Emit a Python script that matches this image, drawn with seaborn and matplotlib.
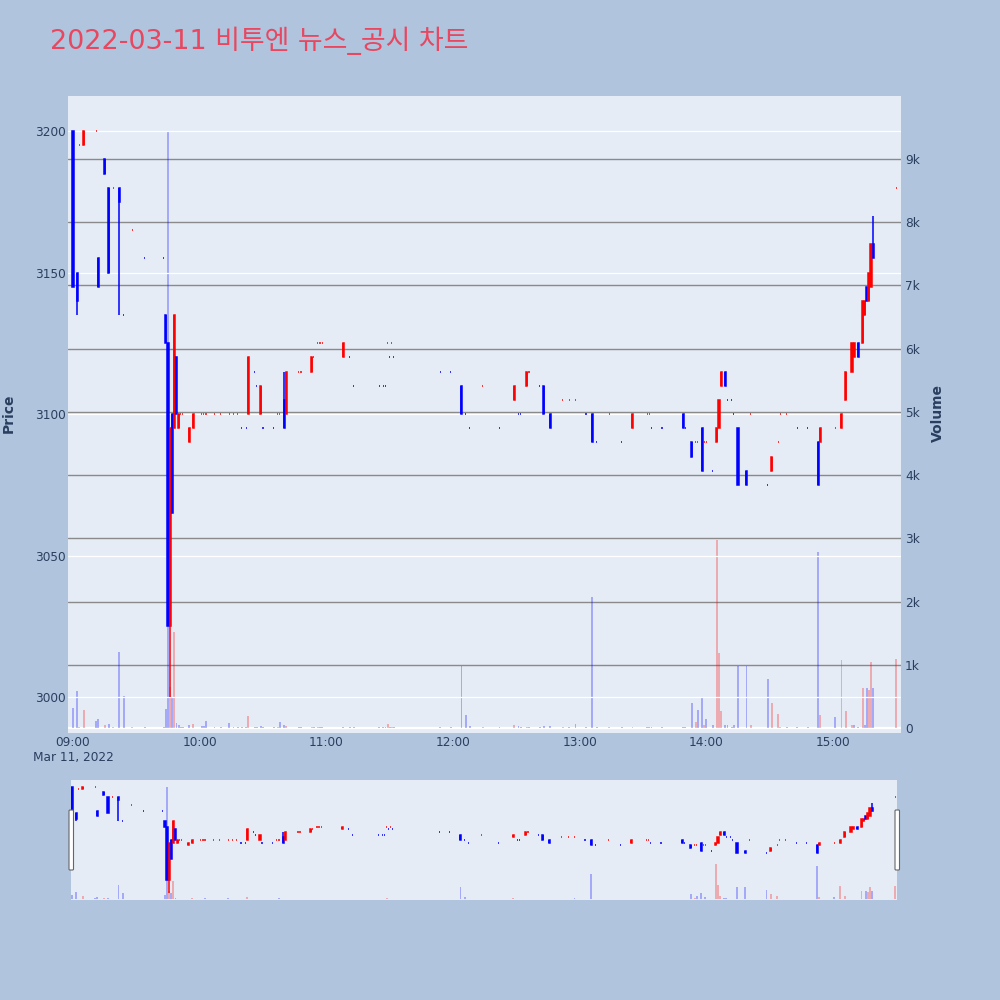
import numpy as np
import pandas as pd
import matplotlib
matplotlib.use("Agg")
import matplotlib.pyplot as plt
from matplotlib.patches import FancyBboxPatch
import seaborn as sns

# ---- 1-minute bars, 2022-03-11 ----
times = [
    "09:00", "09:02", "09:03", "09:05", "09:11", "09:12", "09:15", "09:17", "09:19", "09:22",
    "09:24", "09:28", "09:34", "09:43", "09:44", "09:45", "09:46", "09:47", "09:48", "09:49",
    "09:50", "09:51", "09:52", "09:55", "09:57", "10:01", "10:02", "10:03", "10:07", "10:10",
    "10:14", "10:16", "10:18", "10:20", "10:22", "10:23", "10:26", "10:27", "10:29", "10:30",
    "10:35", "10:37", "10:38", "10:40", "10:41", "10:47", "10:48", "10:53", "10:54", "10:56",
    "10:57", "10:58", "11:08", "11:11", "11:13", "11:25", "11:27", "11:28", "11:29", "11:30",
    "11:31", "11:32", "11:54", "11:59", "12:04", "12:06", "12:08", "12:14", "12:22", "12:29",
    "12:31", "12:32", "12:35", "12:36", "12:41", "12:43", "12:46", "12:52", "12:55", "12:58",
    "13:03", "13:06", "13:08", "13:14", "13:20", "13:25", "13:32", "13:33", "13:34", "13:39",
    "13:49", "13:50", "13:53", "13:55", "13:56", "13:58", "13:59", "14:00", "14:03", "14:05",
    "14:06", "14:07", "14:09", "14:10", "14:12", "14:13", "14:15", "14:19", "14:21", "14:29",
    "14:31", "14:34", "14:35", "14:38", "14:43", "14:48", "14:53", "14:54", "15:01", "15:04",
    "15:06", "15:09", "15:10", "15:12", "15:14", "15:15", "15:16", "15:17", "15:18", "15:19",
    "15:30",
]
opens = [
    3200, 3150, 3195, 3195, 3200, 3155, 3190, 3180, 3180, 3180,
    3135, 3165, 3155, 3155, 3135, 3125, 3025, 3100, 3095, 3120,
    3095, 3100, 3100, 3090, 3095, 3100, 3100, 3100, 3100, 3100,
    3100, 3100, 3100, 3095, 3095, 3100, 3115, 3110, 3100, 3095,
    3095, 3100, 3100, 3105, 3100, 3115, 3115, 3115, 3120, 3125,
    3125, 3125, 3120, 3120, 3110, 3110, 3110, 3110, 3125, 3120,
    3125, 3120, 3115, 3115, 3110, 3100, 3095, 3110, 3095, 3105,
    3100, 3100, 3110, 3115, 3110, 3110, 3100, 3105, 3105, 3105,
    3100, 3100, 3090, 3100, 3090, 3095, 3100, 3100, 3095, 3095,
    3100, 3095, 3090, 3090, 3090, 3095, 3090, 3090, 3080, 3090,
    3095, 3110, 3115, 3105, 3105, 3100, 3095, 3080, 3100, 3075,
    3080, 3090, 3100, 3100, 3095, 3095, 3090, 3090, 3095, 3095,
    3105, 3115, 3120, 3125, 3125, 3135, 3145, 3140, 3145, 3160,
    3180,
]
highs = [
    3200, 3150, 3195, 3200, 3200, 3155, 3190, 3180, 3180, 3180,
    3135, 3165, 3155, 3155, 3135, 3125, 3095, 3100, 3135, 3120,
    3100, 3100, 3100, 3095, 3100, 3100, 3100, 3100, 3100, 3100,
    3100, 3100, 3100, 3095, 3095, 3120, 3115, 3110, 3110, 3095,
    3095, 3100, 3100, 3115, 3115, 3115, 3115, 3120, 3120, 3125,
    3125, 3125, 3125, 3120, 3110, 3110, 3110, 3110, 3125, 3120,
    3125, 3120, 3115, 3115, 3110, 3100, 3095, 3110, 3095, 3110,
    3100, 3100, 3115, 3115, 3110, 3110, 3100, 3105, 3105, 3105,
    3100, 3100, 3090, 3100, 3090, 3100, 3100, 3100, 3095, 3095,
    3100, 3095, 3090, 3090, 3090, 3095, 3090, 3090, 3080, 3095,
    3105, 3115, 3115, 3105, 3105, 3100, 3095, 3080, 3100, 3075,
    3085, 3090, 3100, 3100, 3095, 3095, 3090, 3095, 3095, 3100,
    3115, 3125, 3125, 3125, 3140, 3140, 3145, 3150, 3160, 3170,
    3180,
]
lows = [
    3145, 3135, 3195, 3195, 3200, 3145, 3185, 3150, 3180, 3135,
    3135, 3165, 3155, 3155, 3125, 3025, 3000, 3065, 3095, 3100,
    3095, 3100, 3100, 3090, 3095, 3100, 3100, 3100, 3100, 3100,
    3100, 3100, 3100, 3095, 3095, 3100, 3115, 3110, 3100, 3095,
    3095, 3100, 3100, 3095, 3100, 3115, 3115, 3115, 3120, 3125,
    3125, 3125, 3120, 3120, 3110, 3110, 3110, 3110, 3125, 3120,
    3125, 3120, 3115, 3115, 3100, 3100, 3095, 3110, 3095, 3105,
    3100, 3100, 3110, 3115, 3110, 3100, 3095, 3105, 3105, 3105,
    3100, 3090, 3090, 3100, 3090, 3095, 3100, 3100, 3095, 3095,
    3095, 3095, 3085, 3090, 3090, 3080, 3090, 3090, 3080, 3090,
    3095, 3110, 3110, 3105, 3105, 3100, 3075, 3075, 3100, 3075,
    3080, 3090, 3100, 3100, 3095, 3095, 3075, 3090, 3095, 3095,
    3105, 3115, 3120, 3120, 3125, 3135, 3140, 3140, 3145, 3155,
    3180,
]
closes = [
    3145, 3140, 3195, 3200, 3200, 3145, 3185, 3150, 3180, 3175,
    3135, 3165, 3155, 3155, 3125, 3025, 3095, 3065, 3135, 3100,
    3100, 3100, 3100, 3095, 3100, 3100, 3100, 3100, 3100, 3100,
    3100, 3100, 3100, 3095, 3095, 3120, 3115, 3110, 3110, 3095,
    3095, 3100, 3100, 3095, 3115, 3115, 3115, 3120, 3120, 3125,
    3125, 3125, 3125, 3120, 3110, 3110, 3110, 3110, 3125, 3120,
    3125, 3120, 3115, 3115, 3100, 3100, 3095, 3110, 3095, 3110,
    3100, 3100, 3115, 3115, 3110, 3100, 3095, 3105, 3105, 3105,
    3100, 3090, 3090, 3100, 3090, 3100, 3100, 3100, 3095, 3095,
    3095, 3095, 3085, 3090, 3090, 3080, 3090, 3090, 3080, 3095,
    3105, 3115, 3110, 3105, 3105, 3100, 3075, 3075, 3100, 3075,
    3085, 3090, 3100, 3100, 3095, 3095, 3075, 3095, 3095, 3100,
    3115, 3125, 3125, 3120, 3140, 3140, 3140, 3150, 3160, 3155,
    3180,
]
volumes = [
    320, 580, 20, 280, 110, 150, 50, 60, 20, 1200,
    510, 20, 20, 20, 300, 9430, 650, 470, 1520, 80,
    40, 20, 20, 40, 60, 30, 30, 110, 20, 20,
    80, 20, 20, 20, 20, 190, 20, 20, 30, 20,
    20, 20, 90, 40, 30, 10, 10, 20, 10, 20,
    20, 20, 20, 20, 20, 20, 20, 20, 60, 20,
    20, 20, 20, 20, 980, 210, 30, 10, 10, 50,
    30, 10, 20, 10, 10, 30, 30, 10, 10, 60,
    10, 2070, 10, 10, 10, 20, 10, 10, 10, 10,
    20, 10, 390, 100, 280, 480, 40, 140, 40, 2980,
    1190, 270, 50, 50, 20, 40, 980, 980, 40, 770,
    400, 220, 10, 10, 10, 10, 2780, 200, 180, 1080,
    270, 40, 40, 20, 640, 40, 640, 600, 1040, 640,
    1090,
]

price_ticks = [3000, 3050, 3100, 3150, 3200]
volume_ticks = [0, 1000, 2000, 3000, 4000, 5000, 6000, 7000, 8000, 9000]
volume_tick_labels = ["0", "1k", "2k", "3k", "4k", "5k", "6k", "7k", "8k", "9k"]
hour_ticks = ["09:00", "10:00", "11:00", "12:00", "13:00", "14:00", "15:00"]
date_label = "Mar 11, 2022"
title_text = "2022-03-11 비투엔 뉴스_공시 차트"

UP_COLOR = "#FF0000"
DOWN_COLOR = "#0000FF"
PAPER = "#B0C4DE"
PLOT_BG = "#E5ECF6"
FONT_COLOR = "#2a3f5f"
VOL_GRID = "#8a8a8a"

PRICE_LIM = (2987.3, 3212.4)
VOL_LIM = (-79, 9997)


def to_minutes(hhmm):
    h, m = map(int, hhmm.split(":"))
    return (h - 9) * 60 + m


df = pd.DataFrame({
    "t": [to_minutes(s) for s in times],
    "o": opens, "h": highs, "l": lows, "c": closes, "v": volumes,
})

# candle direction: close vs open; flat candles follow the previous close,
# and when that is flat too they keep the previous direction
direction = []
prev_c, prev_up = None, False
for o, c in zip(df["o"], df["c"]):
    if c != o:
        up = c > o
    elif prev_c is not None and c != prev_c:
        up = c > prev_c
    else:
        up = prev_up
    direction.append(up)
    prev_c, prev_up = c, up
df["up"] = direction
# volume colour: close against the previous close
df["vol_dir"] = np.where(df["c"].diff().fillna(-1) > 0, "up", "down")

sns.set_theme(style="white")
plt.rcParams["font.family"] = ["DejaVu Sans", "Noto Sans CJK KR"]


def draw_series(ax_vol, ax_price):
    sns.barplot(data=df, x="t", y="v", hue="vol_dir", hue_order=["up", "down"],
                palette={"up": UP_COLOR, "down": DOWN_COLOR},
                native_scale=True, dodge=False, width=0.9, saturation=1,
                alpha=0.28, linewidth=0, errorbar=None, legend=False, ax=ax_vol)
    ax_vol.set_xlabel("")
    ax_vol.set_ylabel("")
    colors = np.where(df["up"], UP_COLOR, DOWN_COLOR)
    ax_price.vlines(df["t"], df["l"], df["h"], colors=colors, lw=1.1, zorder=3)
    ax_price.bar(df["t"], (df["c"] - df["o"]).abs(), bottom=np.minimum(df["o"], df["c"]),
                 width=0.55, color=colors, edgecolor=colors, linewidth=1.1, zorder=4)


fig = plt.figure(figsize=(10, 10), dpi=100, facecolor=PAPER)

# ---- main panel: volume on the right axis, candles on the left axis ----
ax_v = fig.add_axes([0.068, 0.267, 0.833, 0.637])
ax_v.set_facecolor(PLOT_BG)
ax_p = ax_v.twinx()
draw_series(ax_v, ax_p)

ax_v.set_xlim(-2.37, 392.2)
ax_v.set_ylim(*VOL_LIM)
ax_p.set_ylim(*PRICE_LIM)

for v in volume_ticks[1:]:
    ax_v.axhline(v, color=VOL_GRID, lw=1.0, zorder=0.5)
ax_v.axhline(0, color="white", lw=1.6, zorder=0.6)
for p in price_ticks:
    ax_p.axhline(p, color="white", lw=0.9, zorder=0.5)

ax_v.yaxis.tick_right()
ax_v.set_yticks(volume_ticks, volume_tick_labels)
ax_p.yaxis.tick_left()
ax_p.set_yticks(price_ticks, [str(p) for p in price_ticks])

ax_v.set_xticks([60 * i for i in range(len(hour_ticks))],
                [hour_ticks[0] + "\n" + date_label] + hour_ticks[1:])
for lbl in ax_v.get_xticklabels():
    lbl.set_linespacing(1.25)

ax_v.tick_params(axis="y", length=0, pad=3, labelsize=8.7, labelcolor=FONT_COLOR,
                 left=False, labelleft=False, right=False, labelright=True)
ax_p.tick_params(axis="y", length=0, pad=1.5, labelsize=8.7, labelcolor=FONT_COLOR,
                 right=False, labelright=False, left=False, labelleft=True)
ax_v.tick_params(axis="x", length=0, pad=2, labelsize=8.7, labelcolor=FONT_COLOR)
for a in (ax_v, ax_p):
    for s in a.spines.values():
        s.set_visible(False)
    a.grid(False)

fig.text(0.009, 0.587, "Price", rotation=90, ha="center", va="center",
         fontsize=10, color=FONT_COLOR, fontweight="bold")
fig.text(0.938, 0.587, "Volume", rotation=90, ha="center", va="center",
         fontsize=10, color=FONT_COLOR, fontweight="bold")

fig.text(0.05, 0.959, title_text, ha="left", va="center", fontsize=19.4, color="#E8475F")

# ---- range slider ----
ax_sv = fig.add_axes([0.071, 0.100, 0.826, 0.120])
ax_sv.set_facecolor(PLOT_BG)
ax_sp = ax_sv.twinx()
draw_series(ax_sv, ax_sp)
ax_sv.set_xlim(-0.5, 390.8)
ax_sv.set_ylim(*VOL_LIM)
ax_sp.set_ylim(*PRICE_LIM)
for a in (ax_sv, ax_sp):
    a.set_xticks([])
    a.set_yticks([])
    a.grid(False)
    for s in a.spines.values():
        s.set_visible(False)

for x0 in (0.0690, 0.8950):
    fig.patches.append(FancyBboxPatch((x0, 0.130), 0.0045, 0.060,
                                      boxstyle="round,pad=0,rounding_size=0.001",
                                      transform=fig.transFigure, facecolor="white",
                                      edgecolor="#666666", lw=0.8, zorder=5))

fig.savefig("out.png", dpi=100, facecolor=PAPER)
